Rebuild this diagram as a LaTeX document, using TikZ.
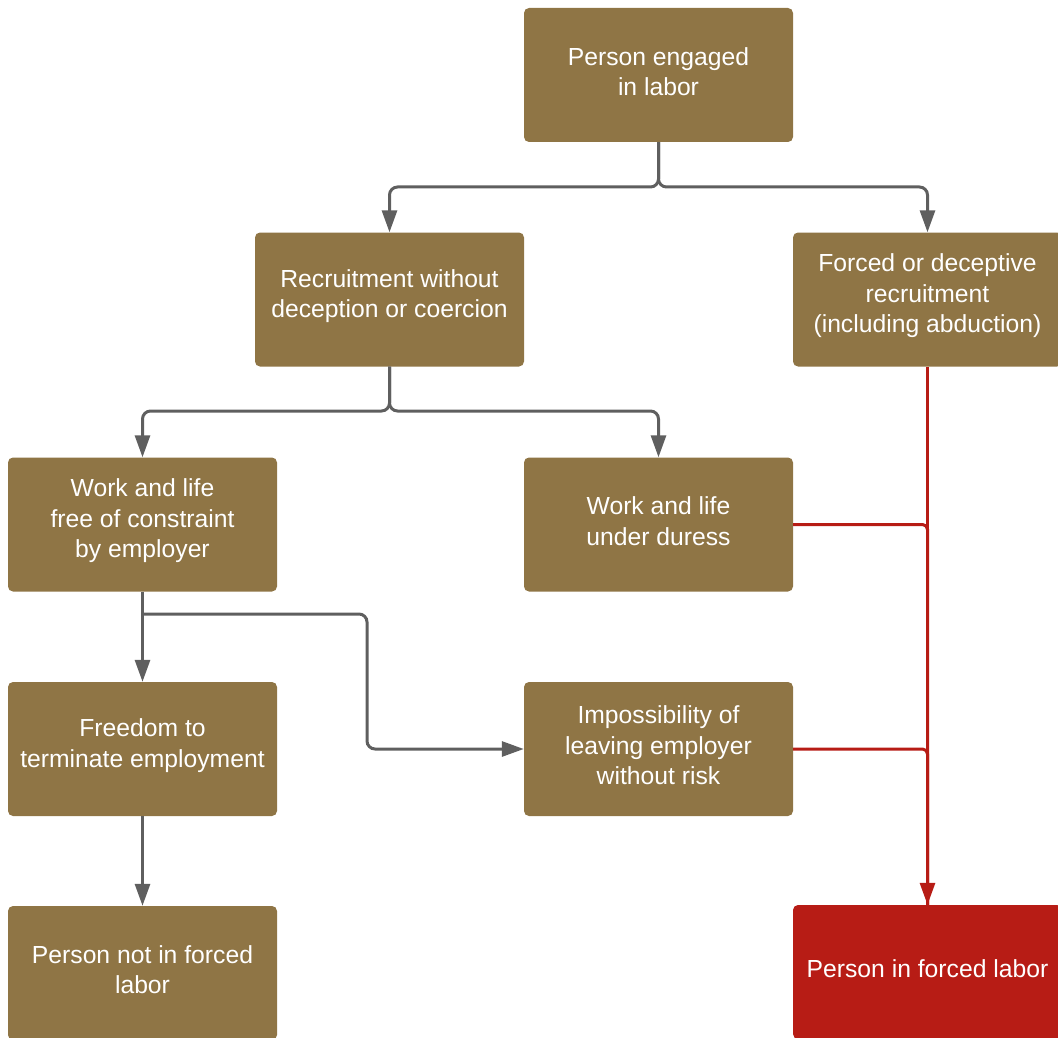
\documentclass[tikz,border=0pt]{standalone}
\usepackage{fontspec}
\setmainfont{Liberation Sans}
\usetikzlibrary{arrows.meta}
\definecolor{boxbrown}{HTML}{8F7545}
\definecolor{boxred}{HTML}{B71C15}
\definecolor{linegray}{HTML}{5F5F5F}
\tikzset{
  flowbox/.style={fill=boxbrown, draw=none, rounded corners=5pt, minimum width=269pt, minimum height=134pt, inner sep=0pt},
  redbox/.style={flowbox, fill=boxred},
  boxtext/.style={text=white, align=center, inner sep=0pt, font=\fontsize{24.7pt}{30.5pt}\selectfont},
  tip/.style={-{Triangle[length=22pt,width=15pt]}},
  grayline/.style={draw=linegray, line width=3pt, rounded corners=8pt},
  grayarrow/.style={grayline, tip},
  redline/.style={draw=boxred, line width=3pt, rounded corners=5pt},
  redarrow/.style={redline, tip},
}
\begin{document}
\begin{tikzpicture}[x=1pt,y=-1pt]
\useasboundingbox (0,0) rectangle (1058,1038);
\node[flowbox] (A) at (658.5,75) {};
\node[flowbox] (B) at (389.5,299.5) {};
\node[flowbox] (C) at (927.5,299.5) {};
\node[flowbox] (D) at (142.5,524.5) {};
\node[flowbox] (E) at (658.5,524.5) {};
\node[flowbox] (F) at (142.5,749) {};
\node[flowbox] (G) at (658.5,749) {};
\node[flowbox] (H) at (142.5,973) {};
\node[redbox] (I) at (927.5,972) {};

\node[boxtext] (At) at ([yshift=3.5pt]A.center) {Person engaged\\in labor};
\node[boxtext] (Bt) at ([yshift=3.5pt]B.center) {Recruitment without\\deception or coercion};
\node[boxtext] (Ct) at ([yshift=3.5pt]C.center) {Forced or deceptive\\recruitment\\(including abduction)};
\node[boxtext] (Dt) at ([yshift=3.5pt]D.center) {Work and life\\free of constraint\\by employer};
\node[boxtext] (Et) at ([yshift=3.5pt]E.center) {Work and life\\under duress};
\node[boxtext] (Ft) at ([yshift=3.5pt]F.center) {Freedom to\\terminate employment};
\node[boxtext] (Gt) at ([yshift=3.5pt]G.center) {Impossibility of\\leaving employer\\without risk};
\node[boxtext] (Ht) at ([yshift=3.5pt]H.center) {Person not in forced\\labor};
\node[boxtext] (It) at ([yshift=3.5pt]I.center) {Person in forced labor};

\coordinate (a1) at (658.5,187);
\coordinate (b1) at (389.5,411);
\coordinate (d1) at (142.5,614);
\coordinate (g1) at (367,614);

\draw[grayarrow] (A.south) -- (a1) -| (B.north);
\draw[grayarrow] (A.south) -- (a1) -| (C.north);
\draw[grayarrow] (B.south) -- (b1) -| (D.north);
\draw[grayarrow] (B.south) -- (b1) -| (E.north);
\draw[grayarrow] (D.south) -- (F.north);
\draw[grayarrow] (d1) -- (g1) |- (G.west);
\draw[grayarrow] (F.south) -- (H.north);

\draw[redline] (E.east) -| (I.north);
\draw[redline] (G.east) -| (I.north);
\draw[redarrow] (C.south) -- (I.north);
\end{tikzpicture}
\end{document}
